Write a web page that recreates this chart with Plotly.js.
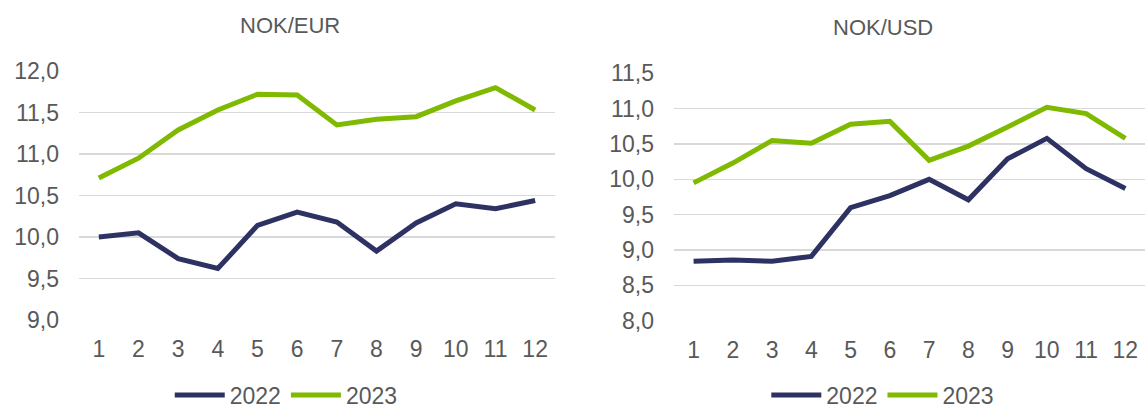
<!DOCTYPE html>
<html>
<head>
<meta charset="utf-8">
<script src="https://cdn.plot.ly/plotly-3.0.1.min.js"></script>
<style>html,body{margin:0;padding:0;background:#fff;}#chart{width:1145px;height:410px;}</style>
</head>
<body>
<div id="chart"></div>
<script>
const months = [1,2,3,4,5,6,7,8,9,10,11,12];
const eur2022 = [10.00,10.05,9.74,9.62,10.14,10.30,10.18,9.83,10.17,10.40,10.34,10.44];
const eur2023 = [10.71,10.95,11.29,11.53,11.72,11.71,11.35,11.42,11.45,11.64,11.80,11.53];
const usd2022 = [8.84,8.86,8.84,8.91,9.60,9.77,10.00,9.71,10.29,10.58,10.15,9.87];
const usd2023 = [9.95,10.23,10.55,10.51,10.78,10.82,10.27,10.47,10.74,11.02,10.93,10.58];
const seriesNames = ['2022','2023'];
const titles = ['NOK/EUR','NOK/USD'];

const navy = '#2E3262', green = '#7FBA00', txt = '#595959';
const font = 'Liberation Sans, Arial, sans-serif';

function tr(y, name, color, xa, ya, lg) {
  return {x: months, y: y, name: name, type: 'scatter', mode: 'lines',
    line: {color: color, width: 5}, xaxis: xa, yaxis: ya, legend: lg};
}
const data = [
  tr(eur2022, seriesNames[0], navy, 'x', 'y', 'legend'),
  tr(eur2023, seriesNames[1], green, 'x', 'y', 'legend'),
  tr(usd2022, seriesNames[0], navy, 'x2', 'y2', 'legend2'),
  tr(usd2023, seriesNames[1], green, 'x2', 'y2', 'legend2')
];
const xax = (dom, anchor) => ({domain: dom, anchor: anchor, range: [0.5, 12.5], tickmode: 'array',
  tickvals: months, ticktext: months.map(String), showgrid: false, zeroline: false, showline: false,
  ticks: '', ticklabelstandoff: 13, tickfont: {size: 23, color: txt, family: font}, fixedrange: true});
const yax = (dom, anchor, rng) => ({domain: dom, anchor: anchor, range: rng, dtick: 0.5, tick0: 0,
  tickformat: '.1f', showgrid: true, gridcolor: '#D9D9D9', gridwidth: 1.4, zeroline: false, showline: false,
  ticks: '', ticklabelstandoff: 19, tickfont: {size: 23, color: txt, family: font}, fixedrange: true});
const legendBase = (x) => ({orientation: 'h', x: x, xanchor: 'center', y: (410 - 395) / 410, yanchor: 'middle',
  font: {size: 23, color: txt, family: font}, itemwidth: 50, bgcolor: 'rgba(0,0,0,0)', traceorder: 'normal'});
const layout = {
  width: 1145, height: 410, margin: {l: 0, r: 0, t: 0, b: 0, pad: 0, autoexpand: false},
  paper_bgcolor: '#fff', plot_bgcolor: '#fff', separators: ', ',
  font: {family: font, color: txt},
  xaxis: xax([0.0690, 0.4847], 'y'),
  yaxis: yax([0.2195, 0.8268], 'x', [9.0, 12.0]),
  xaxis2: xax([0.5886, 1.0], 'y2'),
  yaxis2: yax([0.2178, 0.8212], 'x2', [8.0, 11.5]),
  legend: legendBase(0.25),
  legend2: legendBase(0.771),
  showlegend: true,
  annotations: [
    {text: titles[0], x: 0.253, y: 1 - 25/410, xref: 'paper', yref: 'paper', showarrow: false,
     xanchor: 'center', yanchor: 'middle', font: {size: 22, color: txt, family: font}},
    {text: titles[1], x: 0.771, y: 1 - 27/410, xref: 'paper', yref: 'paper', showarrow: false,
     xanchor: 'center', yanchor: 'middle', font: {size: 22, color: txt, family: font}}
  ]
};
Plotly.newPlot('chart', data, layout, {staticPlot: true, displayModeBar: false});
</script>
</body>
</html>
